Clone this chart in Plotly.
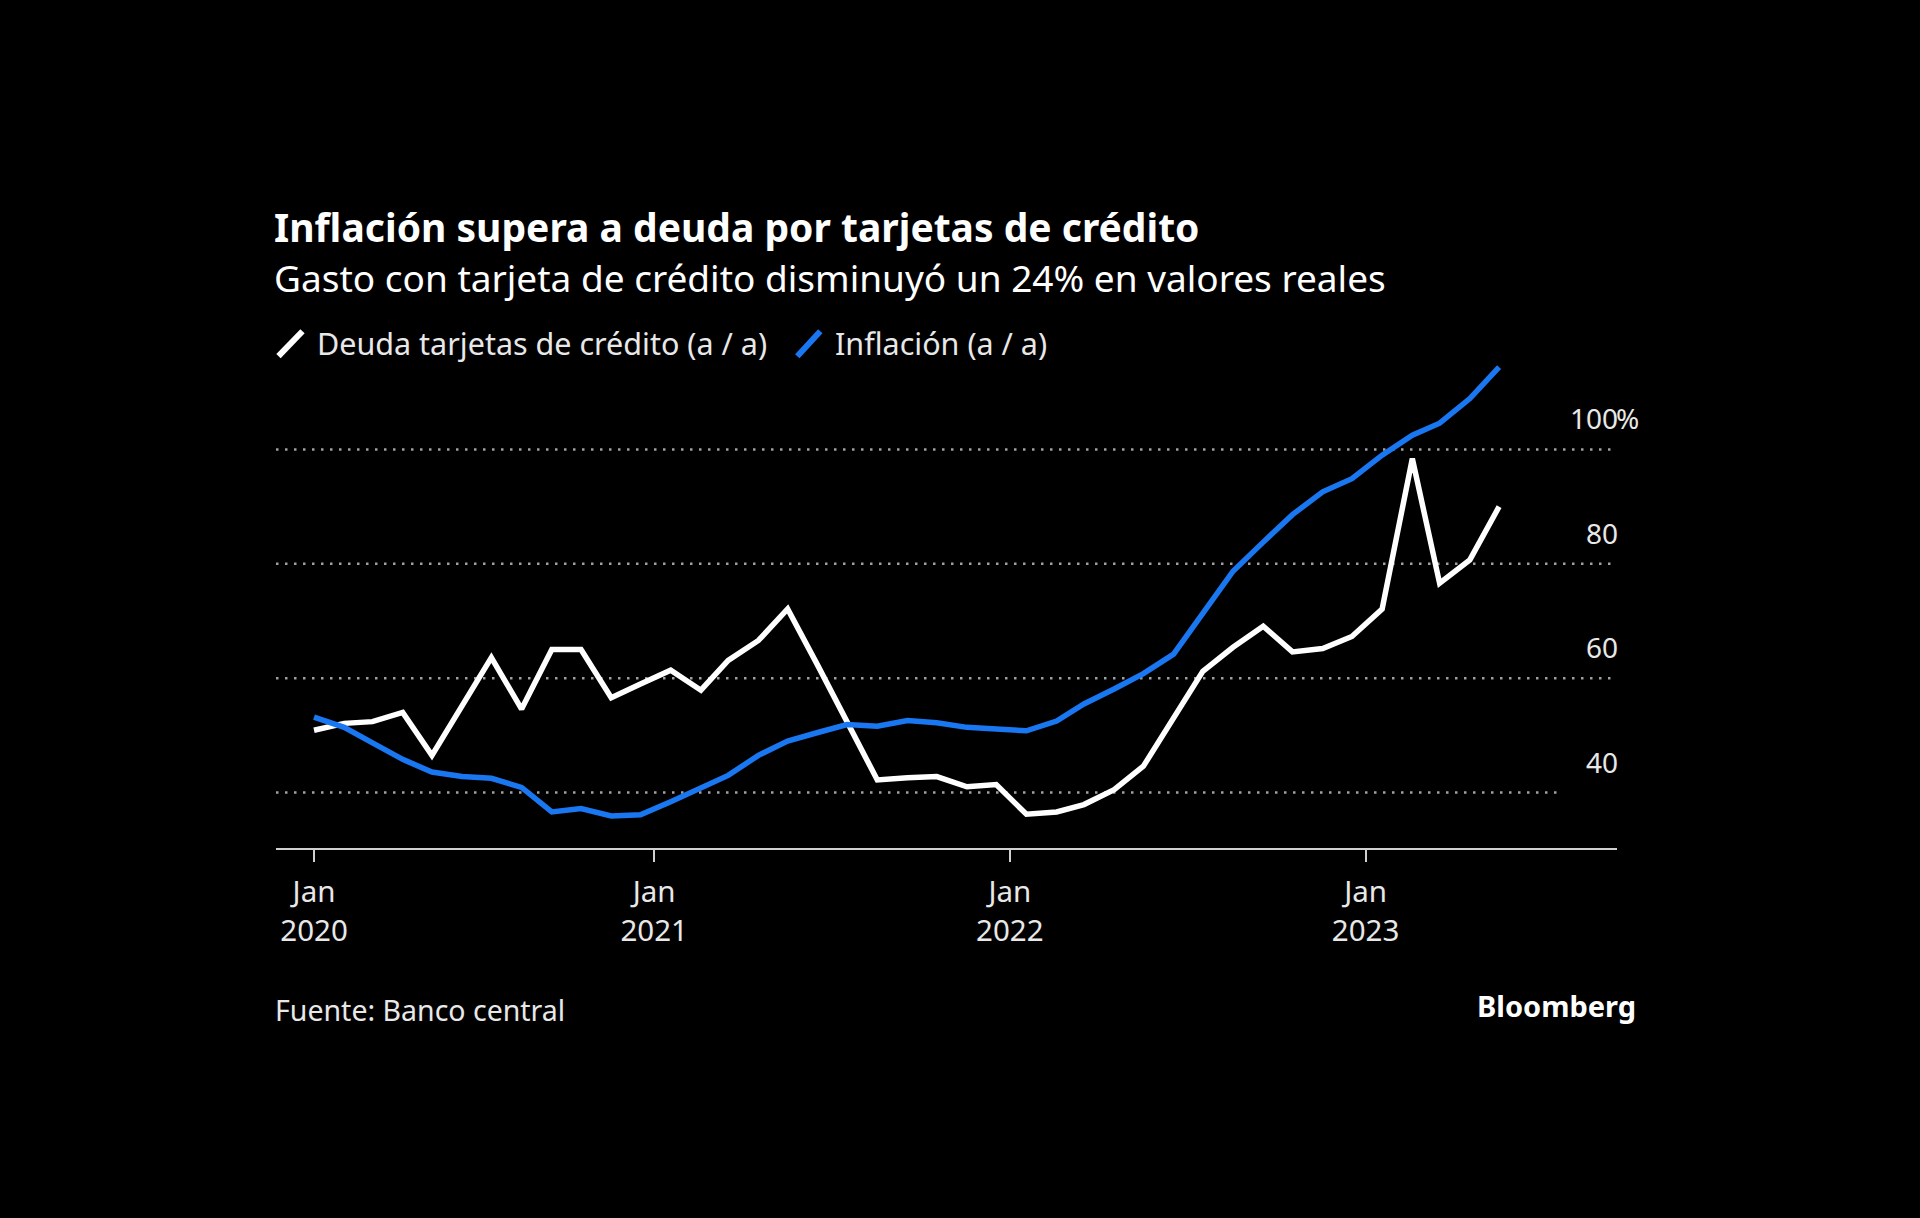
import plotly.graph_objects as go

# ---- data ----
months = [f"{2020 + k // 12}-{k % 12 + 1:02d}-18" for k in range(41)]  # Jan 2020 .. May 2023

deuda_tarjetas = [
    50.9, 52.1, 52.4, 54.0, 46.5, 55.1, 63.6, 54.6, 65.0, 65.0, 56.6, 59.0,
    61.4, 57.9, 63.1, 66.6, 72.1, 62.2, 52.4, 42.2, 42.6, 42.8, 41.0, 41.4,
    36.2, 36.6, 37.9, 40.5, 44.6, 53.1, 61.2, 65.4, 69.1, 64.6, 65.2, 67.3,
    72.1, 98.4, 76.6, 80.7, 90.0,
]
inflacion = [
    53.2, 51.4, 48.7, 45.8, 43.6, 42.8, 42.5, 40.9, 36.6, 37.2, 35.9, 36.1,
    38.4, 40.8, 43.0, 46.5, 49.0, 50.5, 51.9, 51.6, 52.6, 52.2, 51.4, 51.1,
    50.8, 52.5, 55.5, 58.1, 60.8, 64.2, 71.4, 78.7, 83.8, 88.6, 92.6, 94.9,
    99.0, 102.5, 104.6, 108.9, 114.4,
]
tick_dates = [months[0], "2021-01-01", "2022-01-01", "2023-01-01"]
tick_text = ["Jan<br>2020", "Jan<br>2021", "Jan<br>2022", "Jan<br>2023"]
grid_values = [40, 60, 80, 100]
grid_labels = ["40", "60", "80", "100"]

title = "Inflación supera a deuda por tarjetas de crédito"
subtitle = "Gasto con tarjeta de crédito disminuyó un 24% en valores reales"
legend_names = ["Deuda tarjetas de crédito (a / a)", "Inflación (a / a)"]
source = "Fuente: Banco central"
brand = "Bloomberg"

# ---- styling / layout ----
W, H = 1920, 1218
PL, PR, PT, PB = 275.5, 1617.0, 357.8, 848.0   # plot area in pixels
FONT = "Noto Sans"
WHITE = "#ffffff"
BLUE = "#1a77f2"
TXT = "#e8e8e8"
GRID = "#a0a0a0"


def px(x):
    return (x - PL) / (PR - PL)


def py(y):
    return (PB - y) / (PB - PT)


fig = go.Figure()
fig.add_trace(go.Scatter(x=months, y=deuda_tarjetas, mode="lines",
                         line=dict(color=WHITE, width=5.5), name=legend_names[0],
                         showlegend=False))
fig.add_trace(go.Scatter(x=months, y=inflacion, mode="lines",
                         line=dict(color=BLUE, width=5.5), name=legend_names[1],
                         showlegend=False))

shapes = []
for v in grid_values:
    shapes.append(dict(type="line", xref="x domain", yref="y",
                       x0=0, x1=(0.9553 if v == 40 else 1.0), y0=v, y1=v,
                       line=dict(color=GRID, width=2.5, dash="2.5px,6.5px"),
                       layer="below"))
# legend swatches (slashes)
shapes.append(dict(type="line", xref="paper", yref="paper",
                   x0=px(278), x1=px(302), y0=py(356), y1=py(331),
                   line=dict(color=WHITE, width=6)))
shapes.append(dict(type="line", xref="paper", yref="paper",
                   x0=px(797), x1=px(820), y0=py(356), y1=py(331),
                   line=dict(color=BLUE, width=6)))

ann = []
# right-side value labels
for v, lab in zip(grid_values, grid_labels):
    ann.append(dict(xref="paper", yref="y", x=1, y=v, xanchor="right", yanchor="bottom",
                    xshift=3, yshift=10, text=lab, showarrow=False,
                    font=dict(family=FONT, size=28, color=TXT)))
ann.append(dict(xref="paper", yref="y", x=1, y=100, xanchor="left", yanchor="bottom",
                xshift=-3, yshift=10, text="%", showarrow=False,
                font=dict(family=FONT, size=28, color=TXT)))
# title, subtitle
ann.append(dict(xref="paper", yref="paper", x=px(272), y=py(226), xanchor="left",
                yanchor="middle", text=f"<b>{title}</b>", showarrow=False, borderpad=0,
                font=dict(family=FONT, size=39, color=WHITE)))
ann.append(dict(xref="paper", yref="paper", x=px(272), y=py(277), xanchor="left",
                yanchor="middle", text=subtitle, showarrow=False, borderpad=0,
                font=dict(family=FONT, size=37, color=WHITE)))
# legend texts
ann.append(dict(xref="paper", yref="paper", x=px(315), y=py(343), xanchor="left",
                yanchor="middle", text=legend_names[0], showarrow=False,
                font=dict(family=FONT, size=30.5, color=TXT)))
ann.append(dict(xref="paper", yref="paper", x=px(833), y=py(343), xanchor="left",
                yanchor="middle", text=legend_names[1], showarrow=False,
                font=dict(family=FONT, size=30.5, color=TXT)))
# footer
ann.append(dict(xref="paper", yref="paper", x=px(272), y=py(1010), xanchor="left",
                yanchor="middle", text=source, showarrow=False,
                font=dict(family=FONT, size=28.5, color=TXT)))
ann.append(dict(xref="paper", yref="paper", x=px(1638), y=py(1006), xanchor="right",
                yanchor="middle", text=f"<b>{brand}</b>", showarrow=False,
                font=dict(family=FONT, size=29, color=WHITE)))

fig.update_layout(
    width=W, height=H,
    paper_bgcolor="#000000", plot_bgcolor="#000000",
    margin=dict(l=PL, r=W - PR, t=PT, b=H - PB, pad=0),
    showlegend=False,
    shapes=shapes, annotations=ann,
    font=dict(family=FONT, color=TXT),
    xaxis=dict(type="date", range=["2019-12-10", "2023-09-16"],
               tickvals=tick_dates, ticktext=tick_text,
               showgrid=False, zeroline=False,
               showline=True, linecolor="#d0d0d0", linewidth=2,
               ticks="outside", ticklen=12, tickwidth=1.5, tickcolor="#d0d0d0",
               ticklabelstandoff=5,
               tickfont=dict(family=FONT, size=29.5, color=TXT)),
    yaxis=dict(range=[30.3, 116], visible=False, fixedrange=True),
)

fig.write_html("out.html")
